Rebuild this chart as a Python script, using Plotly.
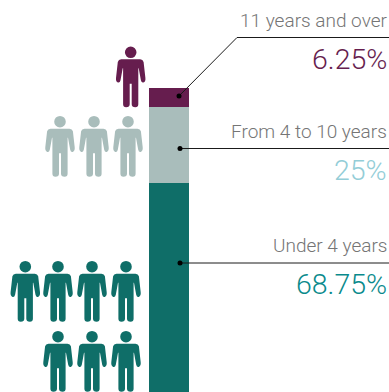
import plotly.graph_objects as go

# Share of staff by length of service, stacked from the bottom up
categories = ["Under 4 years", "From 4 to 10 years", "11 years and over"]
shares = [68.75, 25, 6.25]
share_labels = ["68.75%", "25%", "6.25%"]
people_counts = [7, 3, 1]
bar_colors = ["#0f6e68", "#a9bdbb", "#661d4e"]
label_colors = ["#0a8a8c", "#93cdd7", "#661d4e"]

W, H = 389, 392
BAR_LEFT, BAR_RIGHT = 149, 189
AXIS_MAX = 100 * H / 304

# Pictogram rows for each band: head-centre y and the x centre of each figure
PEOPLE_ROWS = [
    [(266.7, [25.3, 58, 92, 126]), (336.7, [58, 92, 126])],
    [(121.7, [60, 94, 128])],
    [(52.3, [130.7])],
]

# Leader lines: waypoints in pixels; dot sits on the first point
LEADERS = [
    [(180, 263), (389, 263)],
    [(180, 148.5), (389, 148.5)],
    [(179, 96), (237, 37.5), (389, 37.5)],
]
TEXT_Y = [(245, 284), (131, 170), (20, 59)]
FONT = "Roboto"


def person_path(cx, cy):
    """Outline of a standing figure, head excluded, around head centre (cx, cy)."""
    half = [
        (0, 7), (9.5, 7), "Q", (12.2, 7), (12.9, 9.6), (14.7, 25.6), "Q", (15.1, 29.5), (12.7, 30.2),
        "Q", (10.9, 30.8), (10.2, 28), (8, 16), (7.6, 16), (7.6, 52), "Q", (7.6, 55), (4.6, 55),
        "Q", (1, 55), (1, 52), (1, 31.5), (0, 31.5),
    ]

    def side(sign, seq):
        out, pending = [], False
        for item in seq:
            if item == "Q":
                pending = True
                continue
            out.append((sign * item[0], item[1], pending))
            pending = False
        return out

    pts = side(1, half)
    d = [f"M {cx:.2f},{cy + 7:.2f}"]
    i = 1
    while i < len(pts):
        x, y, is_q = pts[i]
        if is_q:
            x2, y2, _ = pts[i + 1]
            d.append(f"Q {cx + x:.2f},{cy + y:.2f} {cx + x2:.2f},{cy + y2:.2f}")
            i += 2
        else:
            d.append(f"L {cx + x:.2f},{cy + y:.2f}")
            i += 1
    # mirror the outline back up the left side
    mirrored = side(-1, half)
    rev = []
    anchors = []
    i = 0
    while i < len(mirrored):
        x, y, is_q = mirrored[i]
        if is_q:
            x2, y2, _ = mirrored[i + 1]
            anchors.append(("Q", (x, y), (x2, y2)))
            i += 2
        else:
            anchors.append(("L", None, (x, y)))
            i += 1
    for j in range(len(anchors) - 1, 0, -1):
        kind, ctrl, _ = anchors[j]
        prev = anchors[j - 1][2]
        if kind == "Q":
            rev.append(f"Q {cx + ctrl[0]:.2f},{cy + ctrl[1]:.2f} {cx + prev[0]:.2f},{cy + prev[1]:.2f}")
        else:
            rev.append(f"L {cx + prev[0]:.2f},{cy + prev[1]:.2f}")
    return " ".join(d + rev) + " Z"


fig = go.Figure()

for cat, share, color in zip(categories, shares, bar_colors):
    fig.add_trace(go.Bar(
        x=[(BAR_LEFT + BAR_RIGHT) / 2], y=[share], width=[BAR_RIGHT - BAR_LEFT],
        name=cat, marker=dict(color=color, line=dict(width=0)), showlegend=False,
    ))

shapes = []
for color, rows, count in zip(bar_colors, PEOPLE_ROWS, people_counts):
    slots = [(cy, cx) for cy, xs in rows for cx in xs][:count]
    for cy, cx in slots:
        shapes.append(dict(type="path", xref="x", yref="y2", path=person_path(cx, cy),
                           fillcolor=color, line=dict(width=0)))
        shapes.append(dict(type="circle", xref="x", yref="y2", x0=cx - 5.8, x1=cx + 5.8,
                           y0=cy - 5.8, y1=cy + 5.8, fillcolor=color, line=dict(width=0)))

for points in LEADERS:
    fig.add_trace(go.Scatter(
        x=[p[0] for p in points], y=[p[1] for p in points], yaxis="y2", mode="lines",
        line=dict(color="#1a1a1a", width=1), showlegend=False, hoverinfo="skip",
    ))
    fig.add_trace(go.Scatter(
        x=[points[0][0]], y=[points[0][1]], yaxis="y2", mode="markers",
        marker=dict(color="#000000", size=5, line=dict(width=0)), showlegend=False, hoverinfo="skip",
    ))

annotations = []
for cat, lab, color, (y_cat, y_lab) in zip(categories, share_labels, label_colors, TEXT_Y):
    annotations.append(dict(x=389, y=y_cat, xref="x", yref="y2", text=cat, showarrow=False,
                            xanchor="right", yanchor="middle",
                            font=dict(family=FONT, size=19, color="#757575", weight=300)))
    annotations.append(dict(x=389, y=y_lab, xref="x", yref="y2", text=lab, showarrow=False,
                            xanchor="right", yanchor="middle",
                            font=dict(family=FONT, size=28.5, color=color, weight=300)))

fig.update_layout(
    width=W, height=H, margin=dict(l=0, r=0, t=0, b=0), barmode="stack", bargap=0,
    paper_bgcolor="white", plot_bgcolor="white", showlegend=False,
    shapes=shapes, annotations=annotations,
    xaxis=dict(range=[0, W], visible=False, fixedrange=True),
    yaxis=dict(range=[0, AXIS_MAX], visible=False, fixedrange=True),
    yaxis2=dict(range=[H, 0], visible=False, overlaying="y", fixedrange=True),
)

fig.write_html("out.html", config=dict(displayModeBar=False))
